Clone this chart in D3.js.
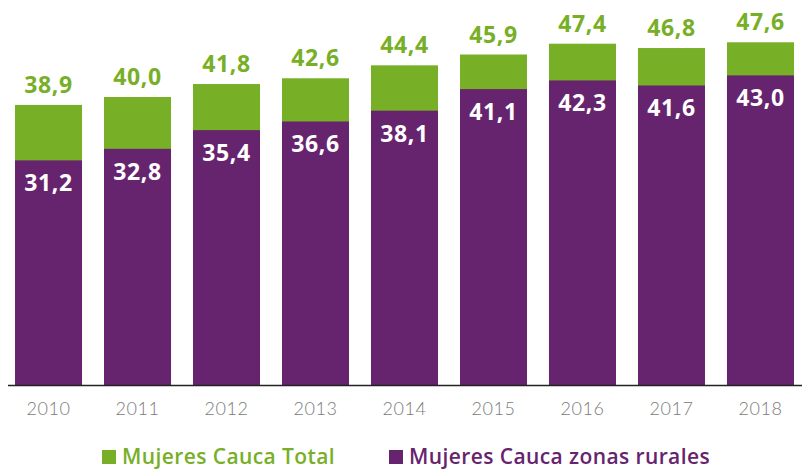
<!DOCTYPE html>
<html>
<head>
<meta charset="utf-8">
<script src="https://cdn.jsdelivr.net/npm/d3@7"></script>
<style>
  body { margin: 0; background: #fff; }
  svg { display: block; }
</style>
</head>
<body>
<svg id="chart"></svg>
<script>
const years = ["2010", "2011", "2012", "2013", "2014", "2015", "2016", "2017", "2018"];
const total = [38.9, 40.0, 41.8, 42.6, 44.4, 45.9, 47.4, 46.8, 47.6];
const rural = [31.2, 32.8, 35.4, 36.6, 38.1, 41.1, 42.3, 41.6, 43.0];
const seriesNames = ["Mujeres Cauca Total", "Mujeres Cauca zonas rurales"];

const width = 802, height = 470,
    green = "#77af27",
    purple = "#67246e",
    fmt = v => d3.format(".1f")(v).replace(".", ",");

const svg = d3.select("#chart")
    .attr("width", width)
    .attr("height", height);

const x = d3.scaleBand()
    .domain(years)
    .range([4, 805])
    .paddingInner(0.247)
    .paddingOuter(0.1236);

const y = d3.scaleLinear()
    .domain([0, 50])
    .range([385, 25]);

const data = years.map((yr, i) => ({ year: yr, total: total[i], rural: rural[i] }));

//green bars (total) behind
svg.selectAll(".bar-total")
    .data(data)
    .enter().append("rect")
    .attr("class", "bar-total")
    .attr("x", d => x(d.year))
    .attr("y", d => y(d.total))
    .attr("width", x.bandwidth())
    .attr("height", d => y(0) - y(d.total))
    .style("fill", green);

//purple bars (rural) in front
svg.selectAll(".bar-rural")
    .data(data)
    .enter().append("rect")
    .attr("class", "bar-rural")
    .attr("x", d => x(d.year))
    .attr("y", d => y(d.rural))
    .attr("width", x.bandwidth())
    .attr("height", d => y(0) - y(d.rural))
    .style("fill", purple);

//labels
svg.selectAll(".lab-total")
    .data(data)
    .enter().append("text")
    .attr("x", d => x(d.year) + x.bandwidth() / 2)
    .attr("y", d => y(d.total) - 12)
    .attr("text-anchor", "middle")
    .text(d => fmt(d.total))
    .style("fill", green)
    .style("font-family", "'Open Sans', sans-serif")
    .style("font-weight", "bold")
    .style("font-size", "23px")
    .style("letter-spacing", "0.6px");

svg.selectAll(".lab-rural")
    .data(data)
    .enter().append("text")
    .attr("x", d => x(d.year) + x.bandwidth() / 2)
    .attr("y", d => y(d.rural) + 31)
    .attr("text-anchor", "middle")
    .text(d => fmt(d.rural))
    .style("fill", "white")
    .style("font-family", "'Open Sans', sans-serif")
    .style("font-weight", "bold")
    .style("font-size", "23px")
    .style("letter-spacing", "0.6px");

//x axis
const xAxis = svg.append("g")
    .attr("transform", `translate(0,${y(0)})`)
    .call(d3.axisBottom(x).tickSize(0).tickPadding(17));
xAxis.select(".domain").attr("d", "M8,0.5H802").style("stroke", "#222").style("stroke-width", 1.5);
xAxis.selectAll("text")
    .style("fill", "#7a7a7a")
    .style("font-family", "Lato, sans-serif")
    .style("font-weight", 300)
    .style("font-size", "18px")
    .style("letter-spacing", "0.6px");

//legend
const legendItems = [
    { name: seriesNames[0], color: green, x: 102 },
    { name: seriesNames[1], color: purple, x: 389 }
];
const legend = svg.selectAll(".legend")
    .data(legendItems)
    .enter().append("g")
    .attr("transform", d => `translate(${d.x},450)`);
legend.append("rect")
    .attr("width", 14)
    .attr("height", 14)
    .style("fill", d => d.color);
legend.append("text")
    .attr("x", 20)
    .attr("y", 14)
    .text(d => d.name)
    .style("fill", d => d.color)
    .style("font-family", "'Open Sans', sans-serif")
    .style("font-weight", 600)
    .style("font-size", "21px")
    .style("letter-spacing", "0.4px");
</script>
</body>
</html>
